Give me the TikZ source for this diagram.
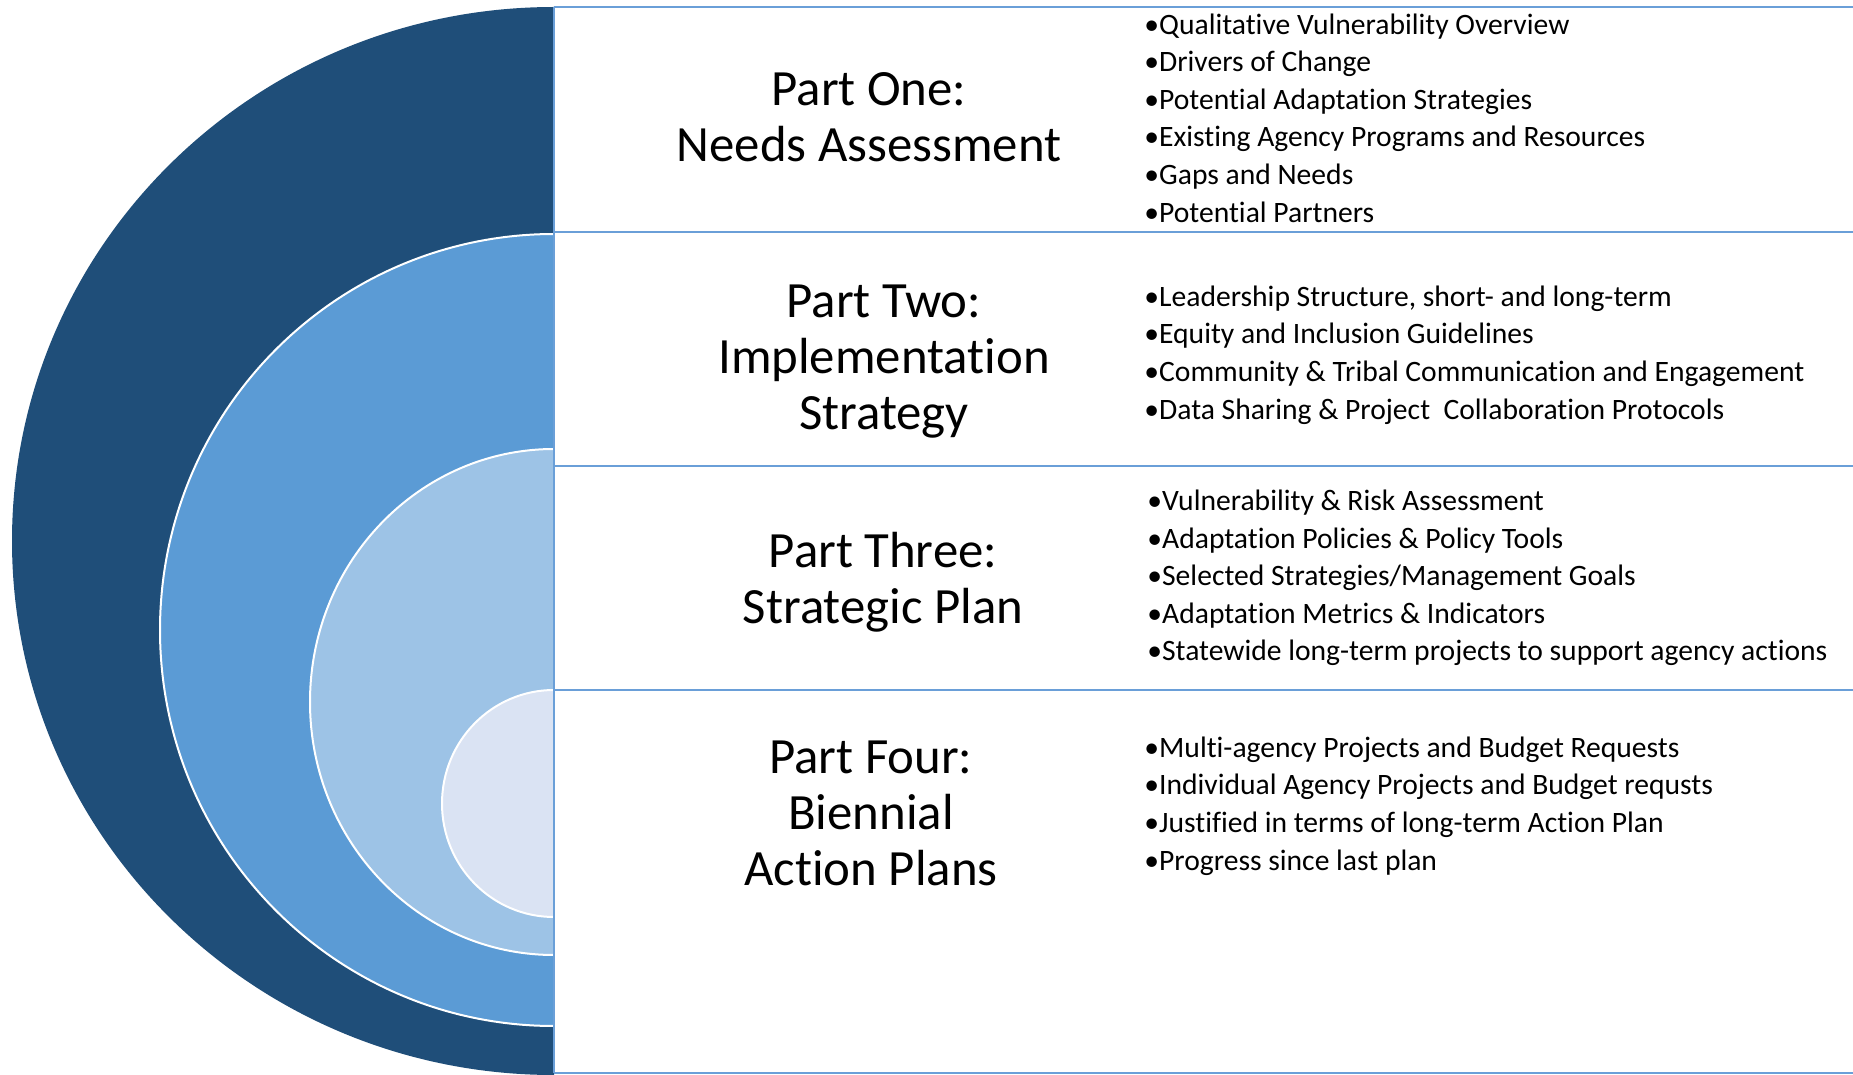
\documentclass[tikz,border=0pt]{standalone}
\usepackage{fontspec}
\setmainfont{Carlito}[Ligatures={NoCommon}]
\definecolor{cdark}{HTML}{1F4E79}
\definecolor{cmed}{HTML}{5B9BD5}
\definecolor{clight}{HTML}{9DC3E6}
\definecolor{clightest}{HTML}{DAE3F3}
\definecolor{cline}{HTML}{6A9FD8}
\begin{document}
\begin{tikzpicture}[x=0.5pt,y=-0.5pt,
  title/.style={align=center, font=\fontsize{25.4}{28}\selectfont, inner sep=0pt},
  bul/.style={align=left, anchor=west, font=\fontsize{14.8}{18.8}\selectfont, inner sep=0pt},
  sep/.style={draw=cline, line width=1.1pt},
  ring/.style={draw=white, line width=1pt}]
\useasboundingbox (0,0) rectangle (1853,1075);
\fill[white] (0,0) rectangle (1853,1075);
% half ellipses
\fill[cdark] (554,1075) arc[start angle=90, end angle=270, x radius=542, y radius=534] -- cycle;
\filldraw[fill=cmed, ring] (554,1026) arc[start angle=90, end angle=270, x radius=394, y radius=396] -- cycle;
\filldraw[fill=clight, ring] (554,955) arc[start angle=90, end angle=270, x radius=244, y radius=253] -- cycle;
\filldraw[fill=clightest, ring] (554,917) arc[start angle=90, end angle=270, x radius=112, y radius=113.5] -- cycle;
% separators
\coordinate (t0) at (554,7);
\coordinate (b0) at (554,1073);
\draw[sep] (t0) -- (b0);
\draw[sep] (554,7) -- (1853,7);
\draw[sep] (554,232) -- (1853,232);
\draw[sep] (554,466) -- (1853,466);
\draw[sep] (554,690) -- (1853,690);
\draw[sep] (554,1073) -- (1853,1073);
% titles
\node[title] (p1) at (869,117) {Part One:\\Needs Assessment};
\node[title] (p2) at (884,362) {Part Two:\\Implementation\\Strategy};
\node[title] (p3) at (883,582.5) {Part Three:\\Strategic Plan};
\node[title] (p4) at (871,813) {Part Four:\\Biennial\\Action Plans};
% bullets
\node[bul] (l1) at (1144,118) {•Qualitative Vulnerability Overview\\•Drivers of Change\\•Potential Adaptation Strategies\\•Existing Agency Programs and Resources\\•Gaps and Needs\\•Potential Partners};
\node[bul] (l2) at (1144,355) {•Leadership Structure, short- and long-term\\•Equity and Inclusion Guidelines\\•Community \& Tribal Communication and Engagement\\•Data Sharing \& Project~ Collaboration Protocols};
\node[bul] (l3) at (1147,578) {•Vulnerability \& Risk Assessment\\•Adaptation Policies \& Policy Tools\\•Selected Strategies/Management Goals\\•Adaptation Metrics \& Indicators\\•Statewide long-term projects to support agency actions};
\node[bul] (l4) at (1144,806) {•Multi-agency Projects and Budget Requests\\•Individual Agency Projects and Budget requsts\\•Justified in terms of long-term Action Plan\\•Progress since last plan};
\end{tikzpicture}
\end{document}
